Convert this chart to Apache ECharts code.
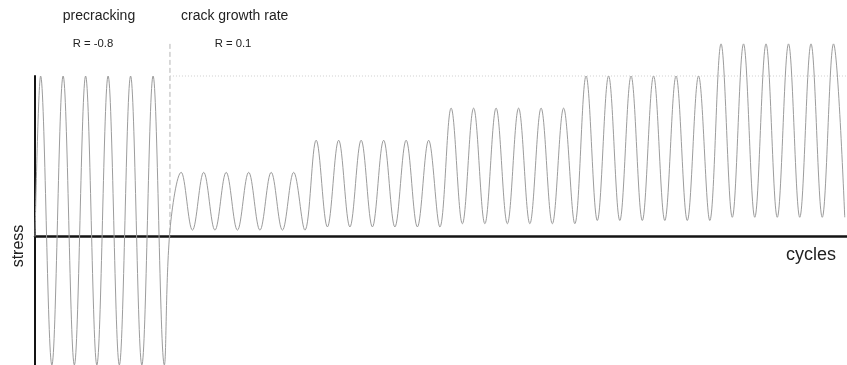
<!DOCTYPE html>
<html>
<head>
<meta charset="utf-8">
<title>Fatigue loading sequence</title>
<script src="https://cdn.jsdelivr.net/npm/echarts@6/dist/echarts.min.js"></script>
<style>
  html, body { margin: 0; padding: 0; background: #fff; }
  #chart { width: 847px; height: 365px; }
</style>
</head>
<body>
<div id="chart"></div>
<script>
// Stress levels, normalised to the precracking maximum.
const precrackPeaks   = [1.0, 1.0, 1.0, 1.0, 1.0, 1.0];
const precrackValleys = [-0.8, -0.8, -0.8, -0.8, -0.8, -0.8];   // R = -0.8
const blockPeaks      = [0.4, 0.6, 0.8, 1.0, 1.2];               // crack growth blocks
const blockValleys    = [0.04, 0.06, 0.08, 0.10, 0.12];          // R = 0.1
const cyclesPerBlock  = 6;
const phaseLabels     = ['precracking', 'crack growth rate'];
const ratioLabels     = ['R = -0.8', 'R = 0.1'];
const axisNames       = ['stress', 'cycles'];

// Turning points of the load history, x in cycles.
const history = [[0, 0]];
precrackPeaks.forEach((p, k) => {
  history.push([k + 0.25, p]);
  history.push([k + 0.75, precrackValleys[k]]);
});
const switchCycle = precrackPeaks.length;
history.push([switchCycle, blockValleys[0]]);
blockPeaks.forEach((p, b) => {
  for (let c = 0; c < cyclesPerBlock; c++) {
    const n = switchCycle + b * cyclesPerBlock + c;
    history.push([n + 0.5, p]);
    history.push([n + 1, blockValleys[b]]);
  }
});
const lastCycle = 36.1;
const topStress = Math.max(...blockPeaks);

const FONT = '"Liberation Sans", Arial, Helvetica, sans-serif';
const chart = echarts.init(document.getElementById('chart'), null, { renderer: 'canvas' });

chart.setOption({
  animation: false,
  backgroundColor: '#ffffff',
  grid: { left: 35, right: 0, top: 76, height: 290, containLabel: false },
  xAxis: {
    type: 'value', min: 0, max: lastCycle,
    axisLine: { show: true, onZero: true, lineStyle: { color: '#141414', width: 2.5 } },
    axisTick: { show: false }, axisLabel: { show: false }, splitLine: { show: false }
  },
  yAxis: {
    type: 'value', min: -0.8, max: 1.0,
    axisLine: { show: true, onZero: true, lineStyle: { color: '#141414', width: 2 } },
    axisTick: { show: false }, axisLabel: { show: false }, splitLine: { show: false }
  },
  series: [
    {
      name: 'phase switch', type: 'line', silent: true, clip: false, symbol: 'none', z: 1,
      data: [[switchCycle, topStress], [switchCycle, 0]],
      lineStyle: { color: '#b4b4b4', width: 1, type: [5, 3] }
    },
    {
      name: 'precrack level', type: 'line', silent: true, clip: false, symbol: 'none', z: 1,
      data: [[switchCycle, precrackPeaks[0]], [lastCycle, precrackPeaks[0]]],
      lineStyle: { color: '#cfcfcf', width: 1, type: [1, 2] }
    },
    {
      name: 'load', type: 'line', silent: true, clip: false, symbol: 'none', z: 2,
      smooth: 0.37,
      data: history,
      lineStyle: { color: '#9c9c9c', width: 1 }
    }
  ],
  graphic: [
    { type: 'text', x: 99, y: 16, style: { text: phaseLabels[0], font: '14px ' + FONT, fill: '#222', align: 'center', verticalAlign: 'middle' } },
    { type: 'text', x: 93, y: 44, style: { text: ratioLabels[0], font: '11.3px ' + FONT, fill: '#222', align: 'center', verticalAlign: 'middle' } },
    { type: 'text', x: 181, y: 16, style: { text: phaseLabels[1], font: '14px ' + FONT, fill: '#222', align: 'left', verticalAlign: 'middle' } },
    { type: 'text', x: 233, y: 44, style: { text: ratioLabels[1], font: '11.3px ' + FONT, fill: '#222', align: 'center', verticalAlign: 'middle' } },
    { type: 'text', x: 19, y: 246, rotation: Math.PI / 2, style: { text: axisNames[0], font: '16px ' + FONT, fill: '#222', align: 'center', verticalAlign: 'middle' } },
    { type: 'text', x: 811, y: 255, style: { text: axisNames[1], font: '18px ' + FONT, fill: '#222', align: 'center', verticalAlign: 'middle' } }
  ]
});
</script>
</body>
</html>
